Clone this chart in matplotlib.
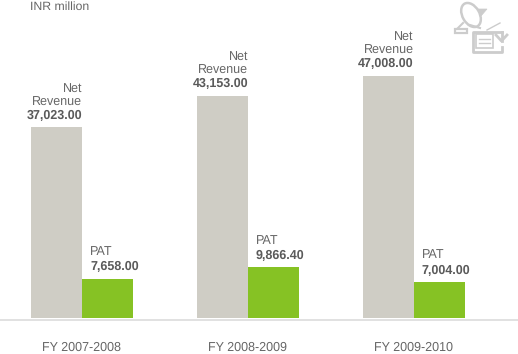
#!/usr/bin/env python3

import matplotlib
matplotlib.use('Agg')
import matplotlib.pyplot as plt
from matplotlib.patches import Ellipse, Polygon, Rectangle
import numpy as np

years = ['FY 2007-2008', 'FY 2008-2009', 'FY 2009-2010']
net_revenue = [37023.00, 43153.00, 47008.00]
pat = [7658.00, 9866.40, 7004.00]
rev_labels = ['37,023.00', '43,153.00', '47,008.00']
pat_labels = ['7,658.00', '9,866.40', '7,004.00']

plt.rcParams['font.family'] = ['Liberation Sans', 'DejaVu Sans']
plt.rcParams['text.hinting'] = 'no_hinting'

gray_bar = '#cfcdc5'
green_bar = '#86c224'
txt = '#666666'
txt_bold = '#5a5a5a'
icon_col = '#cccccc'

W, H = 518, 354
fig = plt.figure(figsize=(W / 100, H / 100), dpi=100)
ax = fig.add_axes([0, 0, 1, 1])

# scale: pixels per unit, base of the bars at y=318
k = 0.00515
step = 165.75
x0 = 82.2
ax.set_xlim(-x0 / step, (W - x0) / step)
ax.set_ylim(-(H - 318) / k, 318 / k)
ax.axis('off')

w = 51.2 / step
x = np.arange(len(years))
ax.bar(x - w / 2, net_revenue, w, color=gray_bar)
ax.bar(x + w / 2, pat, w, color=green_bar)
ax.axhline(-1.5 / k, color='#dcdcdc', lw=1.2)

for i in range(len(years)):
    ax.annotate('Net\nRevenue', (x[i], net_revenue[i]), xytext=(0, 13.6),
                textcoords='offset points', ha='right', va='bottom', fontsize=9,
                color=txt, linespacing=1.12)
    ax.annotate(rev_labels[i], (x[i], net_revenue[i]), xytext=(0, 4.2),
                textcoords='offset points', ha='right', va='bottom', fontsize=9,
                color=txt_bold, fontweight='bold')
    ax.annotate('PAT', (x[i], pat[i]), xytext=(5.6, 15),
                textcoords='offset points', ha='left', va='bottom', fontsize=9,
                color=txt)
    ax.annotate(pat_labels[i], (x[i], pat[i]), xytext=(5.6, 4),
                textcoords='offset points', ha='left', va='bottom', fontsize=9,
                color=txt_bold, fontweight='bold')
    ax.annotate(years[i], (x[i], 0), xytext=(-0.5, -20.9),
                textcoords='offset points', ha='center', va='center', fontsize=9,
                color=txt)

fig.text(30.5 / W, 1 - 6.5 / H, 'INR million', ha='left', va='center', fontsize=8.8, color=txt)

# icon in the top right corner, drawn in pixel coordinates
ic = fig.add_axes([0, 0, 1, 1])
ic.set_xlim(0, W)
ic.set_ylim(H, 0)
ic.axis('off')
ic.patch.set_alpha(0)
ic.add_patch(Ellipse((471, 15), 17, 26, angle=-30, fc='none', ec=icon_col, lw=1.8))
ic.add_patch(Polygon([(478, 9), (487, 9), (481, 16)], fc=icon_col, ec=icon_col, lw=0.5))
ic.plot([463, 458], [23, 28], color=icon_col, lw=1.5)
ic.plot([470, 480], [25, 28], color=icon_col, lw=1.5)
ic.add_patch(Rectangle((454.5, 28.5), 12, 4.5, fc='none', ec=icon_col, lw=1.6))
ic.plot([502, 472.5, 472.5, 502, 502], [31.5, 31.5, 51.5, 51.5, 47], color=icon_col, lw=2)
ic.add_patch(Rectangle((476, 34), 17, 14, fc='none', ec=icon_col, lw=1.2))
ic.plot([479, 490], [39, 39], color=icon_col, lw=1)
ic.plot([479, 490], [43, 43], color=icon_col, lw=1)
ic.plot([487, 500], [30, 23], color=icon_col, lw=1)
ic.plot([496, 501.5, 507], [35, 41, 35], color=icon_col, lw=2)
ic.plot([501.5, 501.5], [32, 41], color=icon_col, lw=2)

fig.savefig('out.png', dpi=100)
plt.close('all')
